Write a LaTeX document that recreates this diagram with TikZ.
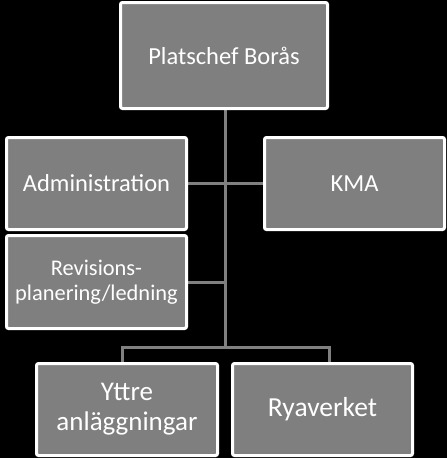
\documentclass[tikz,border=0pt]{standalone}
\usepackage{fontspec}
\setmainfont{Carlito}
\usetikzlibrary{positioning, backgrounds}
\definecolor{boxgray}{RGB}{127,127,127}
\definecolor{linegray}{RGB}{128,128,128}

\begin{document}
\begin{tikzpicture}[x=1pt, y=-1pt,
    unit/.style={draw=white, line width=3pt, fill=boxgray, rounded corners=2pt,
        text=white, align=center, inner sep=0pt,
        minimum width=180pt, minimum height=92pt,
        font=\fontsize{24.5}{29}\selectfont},
    link/.style={draw=linegray, line width=3pt}]
    \useasboundingbox (0,0) rectangle (447,458);
    % boxes
    \node[unit, minimum width=207pt, minimum height=106pt] (chef) at (224,55.5) {Platschef Borås};
    \node[unit] (admin) at (96.5,183.5) {Administration};
    \node[unit] (kma) at (354.5,183.5) {KMA};
    \node[unit, minimum height=93pt, font=\fontsize{22.4}{25}\selectfont] (rev) at (96.5,282) {Revisions-\\planering/ledning};
    \node[unit, minimum width=181pt, font=\fontsize{27}{30}\selectfont] (yttre) at (127,409.5) {Yttre\\anläggningar};
    \node[unit, font=\fontsize{27.5}{30}\selectfont] (rya) at (322.5,409.5) {Ryaverket};
    \coordinate (split) at (225,347);
    % lines behind the boxes
    \begin{scope}[on background layer]
        \fill[black] (0,0) rectangle (447,458);
        \draw[link] (chef.south -| split) -- (split);
        \draw[link] (admin.east) -- (kma.west);
        \draw[link] (rev.east) -- (rev.east -| split);
        \draw[link] ([xshift=-5pt]yttre.north) |- (split) -| ([xshift=6.5pt]rya.north);
    \end{scope}
\end{tikzpicture}
\end{document}
